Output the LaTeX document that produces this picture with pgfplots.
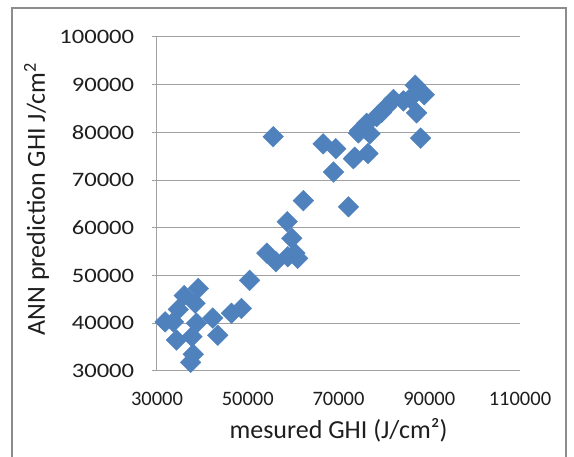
\documentclass[border=0pt]{standalone}
\usepackage{pgfplots}
\pgfplotsset{compat=1.18}
\usepackage{fontspec}
\setmainfont{Carlito}
\definecolor{mk}{HTML}{4F81BD}
\definecolor{grd}{HTML}{A0A0A0}
\definecolor{brd}{HTML}{8C8C8C}
\definecolor{txt}{HTML}{1E1E1E}
\begin{document}
\fontsize{20}{24}\selectfont
\begin{tikzpicture}[x=1pt,y=1pt]
\useasboundingbox (0,0) rectangle (574,457);
\draw[color=brd, line width=1.6pt] (12,-5) -- (12,449) -- (566,449) -- (566,-5);
\begin{axis}[
  at={(157pt,86pt)}, anchor=south west,
  scale only axis, width=363pt, height=334pt,
  xmin=30000, xmax=110000, ymin=30000, ymax=100000,
  xtick={30000,50000,70000,90000,110000},
  ytick={30000,40000,50000,60000,70000,80000,90000,100000},
  scaled ticks=false,
  xticklabel={\pgfmathprintnumber[fixed,precision=0,1000 sep={},assume math mode=true]{\tick}},
  yticklabel={\pgfmathprintnumber[fixed,precision=0,1000 sep={},assume math mode=true]{\tick}},
  axis x line*=bottom, axis y line*=left,
  axis line style={draw=grd, line width=1pt, -},
  ymajorgrids, major grid style={draw=grd, line width=1pt},
  tick align=outside, major tick length=5pt,
  xtick style={draw=none}, ytick style={draw=grd, line width=1pt},
  ticklabel style={text=txt, font=\fontsize{20.5}{24}\selectfont},
  yticklabel style={xscale=1.2, xshift=-8pt},
  xticklabel style={yshift=-9pt},
  xlabel={mesured GHI (J/cm²)},
  ylabel={ANN prediction GHI J/cm\textsuperscript{2}},
  label style={text=txt, font=\fontsize{26}{30}\selectfont},
  xlabel style={at={(axis description cs:0.5,0)}, anchor=north, yshift=-41pt},
  ylabel style={at={(axis description cs:0,0.515)}, anchor=south, yshift=101pt},
  clip=false,
]
\addplot[only marks, mark=square*, mark size=7.3pt,
  mark options={rotate=45, fill=mk, draw=mk}] coordinates {
(31800,40300) (33600,40300) (34300,36500) (34700,42900) (36000,45800)
(39100,47300) (38400,44200) (38700,40000) (37700,37200) (38000,33500)
(37400,31800) (42300,41100) (43400,37500) (46400,42100) (48600,43100)
(50400,49000)
(54200,54700) (56200,52900) (58700,61300) (59700,57800) (58800,53950)
(60400,54700) (61000,53600) (62250,65700) (72200,64400) (55600,79100)
(66600,77600) (69400,76600) (68900,71700) (73300,74500)
(74400,79900) (86900,89900) (88900,87900) (85800,87100) (87200,84100)
(82100,86900) (80600,85400) (79500,84200) (78400,83300) (76200,81900)
(74700,80400) (76950,79700) (88100,78800) (73600,74800) (76500,75600)
(84300,86600)
};
\end{axis}
\end{tikzpicture}
\end{document}
